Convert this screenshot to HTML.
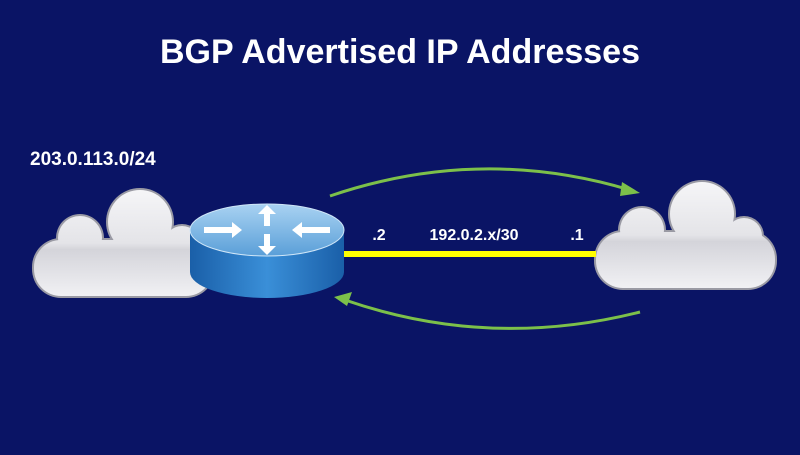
<!DOCTYPE html>
<html><head><style>
body{margin:0;width:800px;height:450px;background:#0a1465;overflow:hidden;font-family:"Liberation Sans",sans-serif}
</style></head><body>
<svg width="800" height="450" xmlns="http://www.w3.org/2000/svg">
<defs>
<linearGradient id="cg" gradientUnits="userSpaceOnUse" x1="0" y1="0" x2="0" y2="110">
<stop offset="0" stop-color="#f6f6f8"/><stop offset="0.5" stop-color="#e4e4e8"/><stop offset="0.56" stop-color="#d4d4da"/><stop offset="1" stop-color="#f2f2f5"/></linearGradient>
<linearGradient id="rb" x1="0" y1="0" x2="1" y2="0">
<stop offset="0" stop-color="#1a5fa8"/><stop offset="0.5" stop-color="#3a8fd8"/><stop offset="1" stop-color="#1a5fa8"/></linearGradient>
<linearGradient id="rt" x1="0" y1="0" x2="0" y2="1">
<stop offset="0" stop-color="#a9d2f2"/><stop offset="1" stop-color="#5a9fd8"/></linearGradient>
<g id="cloud">
<g fill="#9a9aa4">
<circle cx="48" cy="50" r="24"/><circle cx="108" cy="34" r="34"/><circle cx="150" cy="56" r="20"/>
<rect x="0" y="50" width="183" height="60" rx="29"/>
</g>
<g fill="url(#cg)">
<circle cx="48" cy="50" r="22"/><circle cx="108" cy="34" r="32"/><circle cx="150" cy="56" r="18"/>
<rect x="2" y="52" width="179" height="56" rx="27"/>
</g>
</g>
</defs>
<text x="400" y="63" text-anchor="middle" fill="#fff" font-size="34" font-weight="bold">BGP Advertised IP Addresses</text>
<text x="30" y="165" fill="#fff" font-size="19" font-weight="bold">203.0.113.0/24</text>
<use href="#cloud" x="32" y="188"/>
<use href="#cloud" x="594" y="180"/>
<rect x="344" y="251" width="252" height="6" fill="#ffff00"/>
<path d="M190 230 L190 272 A77 26 0 0 0 344 272 L344 230 Z" fill="url(#rb)"/>
<ellipse cx="267" cy="230" rx="77" ry="26" fill="url(#rt)" stroke="#cfe6f8" stroke-width="1"/>
<g fill="#fff">
<polygon points="258,214 267,205 276,214 270,214 270,226 264,226 264,214"/>
<polygon points="258,246 267,255 276,246 270,246 270,234 264,234 264,246"/>
<polygon points="204,227 232,227 232,222 242,230 232,238 232,233 204,233"/>
<polygon points="330,227 302,227 302,222 292,230 302,238 302,233 330,233"/>
</g>
<text x="379" y="240" text-anchor="middle" fill="#fff" font-size="16" font-weight="bold">.2</text>
<text x="474" y="240" text-anchor="middle" fill="#fff" font-size="16" font-weight="bold">192.0.2.x/30</text>
<text x="577" y="240" text-anchor="middle" fill="#fff" font-size="16" font-weight="bold">.1</text>
<g stroke="#7cc04a" stroke-width="3" fill="none">
<path d="M330 196 Q480 145 630 190"/>
<path d="M640 312 Q490 350 345 300"/>
</g>
<polygon points="640,193 622,182 620,196" fill="#7cc04a"/>
<polygon points="334,297 352,292 347,306" fill="#7cc04a"/>
</svg>
</body></html>
